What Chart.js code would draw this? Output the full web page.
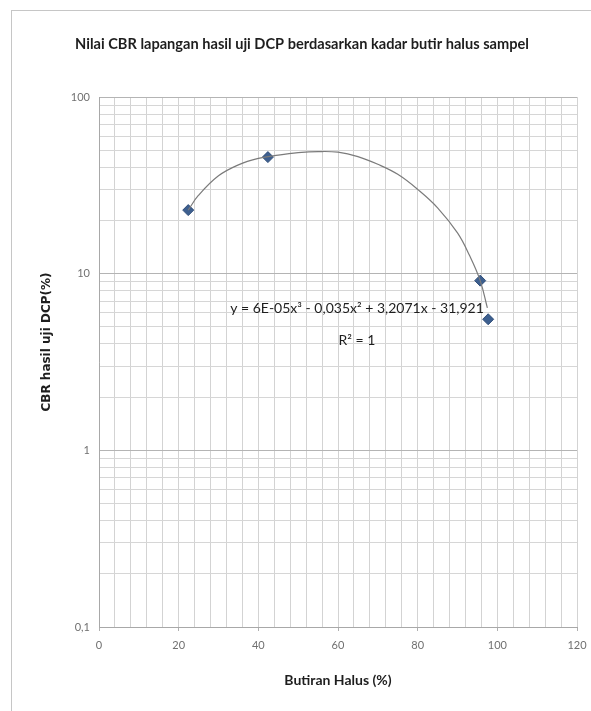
<!DOCTYPE html>
<html>
<head>
<meta charset="utf-8">
<script src="https://cdn.jsdelivr.net/npm/chart.js@4.4.1/dist/chart.umd.min.js"></script>
<style>
  html, body { margin: 0; padding: 0; background: #fff; }
  #wrap { position: relative; width: 591px; height: 711px; overflow: hidden; }
  #frame { position: absolute; left: 11px; top: 10px; width: 620px; height: 740px; border: 1px solid #c6c6c6; box-sizing: border-box; }
  #chart { position: absolute; left: 0; top: 0; }
</style>
</head>
<body>
<div id="wrap">
  <div id="frame"></div>
  <canvas id="chart" width="591" height="711"></canvas>
</div>
<script>
const TITLE     = 'Nilai CBR lapangan hasil uji DCP berdasarkan kadar butir halus sampel';
const X_TITLE   = 'Butiran Halus (%)';
const Y_TITLE   = 'CBR hasil uji DCP(%)';
const EQUATION  = 'y = 6E-05x³ - 0,035x² + 3,2071x - 31,921';
const R_SQUARED = 'R² = 1';

// Butiran halus (%) vs CBR lapangan (%)
const finesPct = [22.4, 42.4, 95.7, 97.7];
const cbrPct   = [22.9, 45.7, 9.13, 5.52];

// Trendline polinomial orde 3
const trendX = [22.4, 25, 30, 35, 40, 45, 50, 55, 60, 65, 70, 75, 80, 85, 90, 93, 95.7, 97.5];
const trendY = [22.9, 27.8, 35.8, 41.3, 44.9, 46.9, 48.4, 49.1, 48.7, 46.0, 41.6, 36.5, 30.0, 23.6, 17.0, 12.7, 9.13, 6.4];

// Sumbu
const xLabels     = [0, 20, 40, 60, 80, 100, 120];
const yDecades    = [0.1, 1, 10, 100];
const yDecadeText = ['0,1', '1', '10', '100'];

const yGrid = [];
yDecades.slice(0, -1).forEach(d => { for (let k = 1; k < 10; k++) yGrid.push(+(d * k).toPrecision(3)); });
yGrid.push(100);

const isDecade = v => yDecades.some(d => Math.abs(d - v) < 1e-9);

const TEXT = '#1e1e1e';
const TICK = '#707070';

const textLayer = {
  id: 'textLayer',
  afterDraw(chart) {
    const { ctx } = chart;
    ctx.save();
    ctx.fillStyle = TEXT;
    ctx.textAlign = 'center';
    ctx.textBaseline = 'middle';

    ctx.font = 'bold 14.6px Lato';
    ctx.fillText(TITLE, 302, 44);

    ctx.font = 'bold 14px Lato';
    ctx.fillText(X_TITLE, 338, 680);

    ctx.font = '14px Lato';
    ctx.fillText(EQUATION, 357, 308);
    ctx.fillText(R_SQUARED, 357, 340);

    ctx.translate(47, 342);
    ctx.rotate(-Math.PI / 2);
    ctx.font = 'bold 12px "DejaVu Sans"';
    ctx.fillText(Y_TITLE, 0, 0);
    ctx.restore();
  },
};

new Chart(document.getElementById('chart'), {
  type: 'scatter',
  data: {
    datasets: [
      {
        label: 'Trendline',
        data: trendX.map((x, i) => ({ x, y: trendY[i] })),
        showLine: true,
        borderColor: '#7b7b7b',
        borderWidth: 1.2,
        pointRadius: 0,
        tension: 0.4,
        order: 1,
      },
      {
        label: 'CBR',
        data: finesPct.map((x, i) => ({ x, y: cbrPct[i] })),
        pointStyle: 'rectRot',
        pointRadius: 5.5,
        backgroundColor: '#3d5f8f',
        borderColor: '#2f4d78',
        borderWidth: 1,
        order: 2,
      },
    ],
  },
  options: {
    responsive: false,
    animation: false,
    layout: { padding: { top: 97, left: 14, right: 14, bottom: 0 } },
    plugins: {
      legend: { display: false },
      tooltip: { enabled: false },
    },
    scales: {
      x: {
        type: 'linear',
        min: 0,
        max: 120,
        afterFit: s => { s.height = 84; s.paddingLeft = 0; s.paddingRight = 0; },
        ticks: {
          stepSize: 4,
          autoSkip: false,
          maxRotation: 0,
          padding: 8,
          color: TICK,
          font: { family: 'Lato', size: 11 },
          callback: v => (xLabels.includes(v) ? String(v) : ''),
        },
        grid: {
          color: '#d3d3d3',
          tickLength: 4,
          tickColor: ctx => (xLabels.includes(ctx.tick?.value) ? '#b0b0b0' : 'rgba(0,0,0,0)'),
        },
        border: { color: '#a8a8a8' },
      },
      y: {
        type: 'logarithmic',
        min: 0.1,
        max: 100,
        afterFit: s => { s.width = 85; s.paddingTop = 0; s.paddingBottom = 0; },
        afterBuildTicks: s => { s.ticks = yGrid.map(v => ({ value: v })); },
        ticks: {
          autoSkip: false,
          padding: 9,
          color: TICK,
          font: { family: 'Lato', size: 11 },
          callback: v => {
            const i = yDecades.findIndex(d => Math.abs(d - v) < 1e-9);
            return i >= 0 ? yDecadeText[i] : '';
          },
        },
        grid: {
          drawTicks: false,
          color: ctx => (isDecade(ctx.tick?.value) ? '#b4b4b4' : '#d6d6d6'),
        },
        border: { color: '#a8a8a8' },
      },
    },
  },
  plugins: [textLayer],
});
</script>
</body>
</html>
